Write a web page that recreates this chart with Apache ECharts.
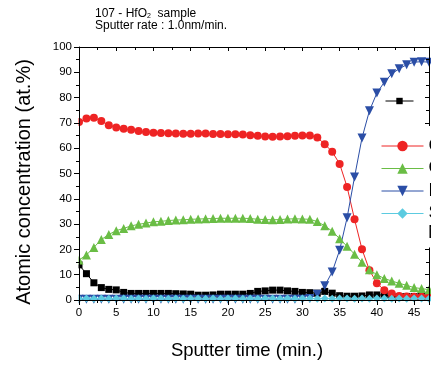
<!DOCTYPE html>
<html>
<head>
<meta charset="utf-8">
<script src="https://cdn.jsdelivr.net/npm/echarts@6/dist/echarts.min.js"></script>
<style>
  html, body { margin: 0; padding: 0; background: #fff; }
  #chart { width: 431px; height: 365px; }
</style>
</head>
<body>
<div id="chart"></div>
<script>
// sputter time (min.)
const times = [0, 1, 2, 3, 4, 5, 6, 7, 8, 9, 10, 11, 12, 13, 14, 15, 16, 17, 18, 19, 20, 21, 22, 23,
  24, 25, 26, 27, 28, 29, 30, 31, 32, 33, 34, 35, 36, 37, 38, 39, 40, 41, 42, 43, 44, 45, 46, 47];

// atomic concentration (at.%)
const blackVals = [13.9, 10.4, 6.8, 4.9, 4.2, 4.0, 3.0, 2.6, 2.6, 2.6, 2.6, 2.6, 2.6, 2.5, 2.4, 2.3,
  1.9, 1.9, 2.0, 2.3, 2.3, 2.3, 2.3, 2.6, 3.4, 3.6, 3.9, 3.9, 3.6, 3.4, 3.0, 2.9,
  2.7, 3.4, 2.7, 1.7, 1.5, 1.5, 1.6, 2.0, 2.0, 2.0, 1.5, 1.4, 1.4, 1.4, 1.5, 1.5];
const redVals = [70.4, 71.7, 72.0, 70.8, 69.1, 68.2, 67.7, 67.3, 66.8, 66.4, 66.1, 66.0, 65.9, 65.8, 65.7, 65.7,
  65.8, 65.8, 65.6, 65.6, 65.5, 65.5, 65.4, 65.1, 64.9, 64.6, 64.5, 64.6, 64.7, 64.9, 65.0, 65.0,
  64.2, 61.6, 58.6, 53.8, 44.7, 31.9, 20.1, 11.8, 6.6, 3.9, 2.6, 1.6, 1.4, 1.3, 1.3, 1.3];
const greenVals = [15.8, 17.8, 20.8, 23.9, 25.9, 27.4, 28.3, 29.3, 29.9, 30.4, 30.9, 31.1, 31.4, 31.6, 31.7, 31.9,
  32.0, 32.1, 32.2, 32.3, 32.3, 32.3, 32.3, 32.2, 31.9, 31.8, 31.7, 31.8, 32.0, 32.1, 32.0, 31.9,
  31.0, 29.3, 27.2, 24.2, 21.2, 18.1, 14.9, 12.0, 10.0, 8.5, 7.5, 6.6, 5.8, 4.9, 4.5, 4.1];
const blueVals = [0.3, 0.3, 0.3, 0.3, 0.3, 0.3, 0.3, 0.3, 0.3, 0.3, 0.3, 0.3, 0.3, 0.3, 0.3, 0.3,
  0.3, 0.3, 0.3, 0.3, 0.3, 0.3, 0.3, 0.3, 0.3, 0.3, 0.3, 0.3, 0.3, 0.3, 0.3, 0.6,
  2.3, 5.6, 11.1, 19.7, 32.5, 48.6, 64.0, 74.8, 81.8, 86.1, 89.4, 91.4, 93.0, 94.0, 94.2, 94.0];
const cyanVals = [0.5, 0.6, 0.5, 0.6, 0.5, 0.6, 0.6, 0.5, 0.6, 0.5, 0.6, 0.6, 0.5, 0.6, 0.5, 0.6,
  0.6, 0.5, 0.6, 0.5, 0.6, 0.6, 0.5, 0.6, 0.5, 0.6, 0.6, 0.5, 0.6, 0.5, 0.6, 0.6,
  0.5, 0.6, 0.5, 0.6, 0.6, 0.5, 0.6, 0.5, 0.6, 0.6, 0.5, 0.6, 0.5, 0.6, 0.6, 0.5];

const seriesNames = ['Ar', 'C', 'O', 'Hf', 'Si'];
const xTicks = { min: 0, max: 47, interval: 5 };
const yTicks = { min: 0, max: 100, interval: 10 };

const font = "'Liberation Sans', Arial, sans-serif";
const pairs = (vals) => vals.map((v, i) => [times[i], v]);

const chart = echarts.init(document.getElementById('chart'));

function mkSeries(name, vals, color, symbol, size, rotate) {
  return {
    name, type: 'line', data: pairs(vals),
    symbol, symbolSize: size, symbolRotate: rotate || 0,
    lineStyle: { color, width: 1 },
    itemStyle: { color },
    clip: false,
    z: 2
  };
}

const axisBase = {
  type: 'value', splitLine: { show: false }, z: 4,
  axisLine: { show: true, onZero: false, lineStyle: { color: '#000', width: 1 } },
  axisTick: { show: true, length: 5, lineStyle: { color: '#000' } },
  minorTick: { show: true, splitNumber: 2, length: 3, lineStyle: { color: '#000' } }
};
const innerTicks = {
  axisLabel: { show: false },
  axisTick: { show: true, inside: true, length: 4, lineStyle: { color: '#000' } },
  minorTick: { show: true, splitNumber: 2, length: 3, lineStyle: { color: '#000' } }
};
const baseX = Object.assign({}, axisBase, { min: xTicks.min, max: xTicks.max, interval: xTicks.interval });
const baseY = Object.assign({}, axisBase, { min: yTicks.min, max: yTicks.max, interval: yTicks.interval });

chart.setOption({
  animation: false,
  backgroundColor: '#fff',
  textStyle: { fontFamily: font },
  title: {
    left: 95, top: 8, padding: 0,
    text: '{t|107 - HfO}{s|2}{t|  sample}\n{t|Sputter rate : 1.0nm/min.}',
    textStyle: {
      fontWeight: 'normal',
      rich: {
        t: { fontSize: 12, fontFamily: font, fontWeight: 'normal', color: '#000', lineHeight: 11.5 },
        s: { fontSize: 7, fontFamily: font, fontWeight: 'normal', color: '#000', verticalAlign: 'bottom', lineHeight: 6 }
      }
    }
  },
  grid: { left: 79, top: 47, width: 350, height: 259, containLabel: false },
  xAxis: [
    Object.assign({}, baseX, {
      position: 'bottom',
      name: 'Sputter time (min.)', nameLocation: 'middle', nameGap: 41,
      nameTextStyle: { fontSize: 18.5, color: '#000', fontFamily: font, padding: [0, 14, 0, 0] },
      axisLabel: { fontSize: 11.5, color: '#000', margin: 7, showMaxLabel: false, fontFamily: font }
    }),
    Object.assign({}, baseX, { position: 'top' }, innerTicks)
  ],
  yAxis: [
    Object.assign({}, baseY, {
      position: 'left',
      name: 'Atomic concentration (at.%)', nameLocation: 'middle', nameGap: 45,
      nameTextStyle: { fontSize: 20, color: '#000', fontFamily: font, padding: [0, 17, 0, 0] },
      axisLabel: { fontSize: 11.5, color: '#000', margin: 7, fontFamily: font }
    }),
    Object.assign({}, baseY, { position: 'right' }, innerTicks)
  ],
  legend: [
    {
      data: [seriesNames[0]], orient: 'vertical', left: 385, top: 92,
      itemWidth: 28, itemHeight: 8, padding: 0, selectedMode: false,
      lineStyle: { width: 1 },
      textStyle: { fontSize: 18, color: '#000', fontFamily: font, padding: [0, 0, 0, 40] }
    },
    {
      data: seriesNames.slice(1), orient: 'vertical', left: 381, top: 126,
      itemWidth: 42, itemHeight: 13, itemGap: 2.5, padding: [10, 20, 24, 0],
      backgroundColor: '#fff', selectedMode: false, z: 5,
      lineStyle: { width: 1 },
      textStyle: { fontSize: 18, lineHeight: 20, color: '#000', fontFamily: font }
    }
  ],
  graphic: [
    { type: 'rect', silent: true, z: 3, shape: { x: 0, y: 306.5, width: 431, height: 12 }, style: { fill: '#fff' } },
    { type: 'rect', silent: true, z: 3, shape: { x: 60, y: 40, width: 18.5, height: 272 }, style: { fill: '#fff' } },
    { type: 'text', z: 100, left: 428, top: 224, style: { text: 'N', fontSize: 18, fontFamily: font, fill: '#000' } }
  ],
  series: [
    mkSeries(seriesNames[0], blackVals, '#000000', 'rect', 7),
    mkSeries(seriesNames[1], redVals, '#ee2424', 'circle', 8),
    mkSeries(seriesNames[2], greenVals, '#6abd45', 'triangle', 9),
    mkSeries(seriesNames[3], blueVals, '#2b4ea6', 'triangle', 9, 180),
    mkSeries(seriesNames[4], cyanVals, '#5ccbe0', 'diamond', 8)
  ]
});
</script>
</body>
</html>
